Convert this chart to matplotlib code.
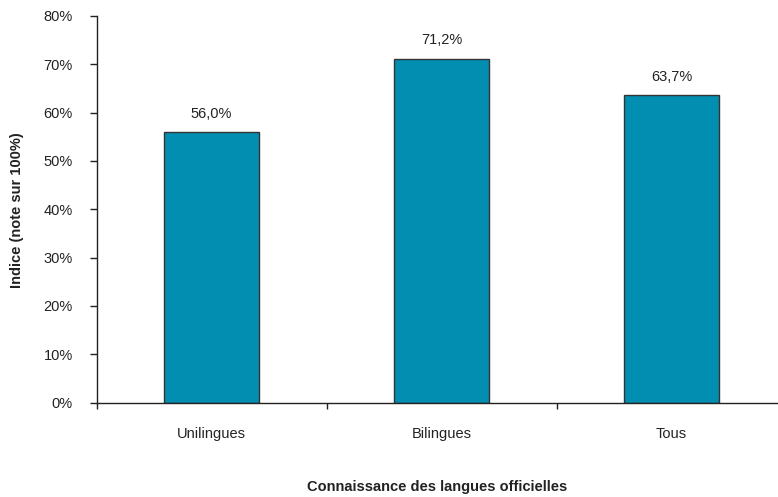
import matplotlib
matplotlib.use("Agg")
import matplotlib.pyplot as plt
from matplotlib import font_manager

categories = ["Unilingues", "Bilingues", "Tous"]
values = [56.0, 71.2, 63.7]
value_labels = ["56,0%", "71,2%", "63,7%"]
yticks = [0, 10, 20, 30, 40, 50, 60, 70, 80]
ytick_labels = ["0%", "10%", "20%", "30%", "40%", "50%", "60%", "70%", "80%"]

names = {f.name for f in font_manager.fontManager.ttflist}
fam = ["Liberation Sans Narrow", "DejaVu Sans"] if "Liberation Sans Narrow" in names else ["Liberation Sans", "DejaVu Sans"]
plt.rcParams["font.family"] = fam

W, H = 778, 497
fig = plt.figure(figsize=(W / 100, H / 100), dpi=100)
left, right = 96.5, 786.5
top, bottom = 16, 402.5
ax = fig.add_axes([left / W, (H - bottom) / H, (right - left) / W, (bottom - top) / H])

x = list(range(len(categories)))
ax.bar(x, values, width=0.41, color="#028EB0", edgecolor="#333333", linewidth=1.0, zorder=2)
for xi, v, lab in zip(x, values, value_labels):
    ax.annotate(lab, (xi, v), xytext=(0, 8), textcoords="offset points",
                ha="center", va="bottom", fontsize=10.5, color="#222222")

ax.set_xlim(-0.5, 2.5)
ax.set_ylim(0, 80)
ax.set_yticks(yticks)
ax.set_yticklabels(ytick_labels, fontsize=10.5, color="#222222")
ax.set_xticks([-0.5, 0.5, 1.5, 2.5])
ax.set_xticklabels([])
ax.tick_params(axis="y", direction="out", length=5, width=1, color="#222222", pad=12)
ax.tick_params(axis="x", direction="out", length=4, width=1, color="#222222")
for i, c in enumerate(categories):
    ax.text(i, -6.6, c, ha="center", va="center", fontsize=10.5, color="#222222")

for s in ["top", "right"]:
    ax.spines[s].set_visible(False)
for s in ["left", "bottom"]:
    ax.spines[s].set_color("#222222")
    ax.spines[s].set_linewidth(1.0)

fig.text(437 / W, 1 - 487 / H, "Connaissance des langues officielles", ha="center", va="center",
         fontsize=10.5, fontweight="bold", color="#222222")
fig.text(17 / W, 1 - 210 / H, "Indice (note sur 100%)", ha="center", va="center", rotation=90,
         fontsize=10.5, fontweight="bold", color="#222222")

fig.savefig("out.png", dpi=100)
